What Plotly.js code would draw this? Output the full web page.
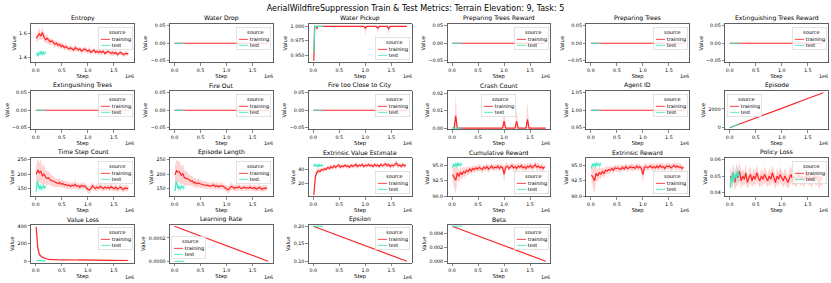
<!DOCTYPE html>
<html><head><meta charset="utf-8">
<script src="https://cdn.plot.ly/plotly-3.0.1.min.js"></script>
<style>html,body{margin:0;padding:0;background:#fff}#chart{width:831px;height:283px}</style>
</head><body><div id="chart"></div>
<script>
// ---------------- data ----------------
const trainSteps = [10000,40000,70000,100000,130000,160000,190000,220000,250000,280000,
310000,340000,370000,400000,430000,460000,490000,520000,550000,580000,
610000,640000,670000,700000,730000,760000,790000,820000,850000,880000,
910000,940000,970000,1000000,1030000,1060000,1090000,1120000,1150000,1180000,
1210000,1240000,1270000,1300000,1330000,1360000,1390000,1420000,1450000,1480000,
1510000,1540000,1570000,1600000,1630000,1660000,1690000,1720000,1750000,1780000];
const testSteps = [10000,30000,50000,70000,90000,110000,130000,150000,170000,190000];
const lineSteps = [0, 1800000];
const testLineSteps = [0, 190000];
const xTickVals = [0, 500000, 1000000, 1500000];
const xTickText = ['0.0', '0.5', '1.0', '1.5'];

const entropyTrain = [1.56,1.58,1.60,1.58,1.61,1.57,1.55,1.56,1.54,1.53,
1.54,1.52,1.51,1.52,1.50,1.51,1.49,1.50,1.48,1.49,
1.48,1.47,1.48,1.47,1.46,1.48,1.47,1.46,1.47,1.45,
1.46,1.47,1.46,1.45,1.46,1.44,1.45,1.46,1.44,1.45,
1.44,1.45,1.44,1.45,1.43,1.44,1.45,1.44,1.43,1.44,
1.43,1.44,1.42,1.43,1.44,1.43,1.42,1.43,1.43,1.43];
const entropyTrainSpread = [0.03,0.04,0.05,0.03,0.05,0.04,0.03,0.04,0.03,0.03,
0.02,0.03,0.03,0.02,0.03,0.02,0.03,0.02,0.02,0.03,
0.02,0.02,0.03,0.02,0.02,0.03,0.02,0.02,0.02,0.03,
0.02,0.02,0.02,0.02,0.03,0.02,0.02,0.02,0.02,0.02,
0.02,0.03,0.02,0.02,0.02,0.02,0.02,0.02,0.02,0.03,
0.02,0.02,0.02,0.02,0.02,0.02,0.02,0.02,0.02,0.02];
const entropyTest = [1.42,1.43,1.41,1.44,1.43,1.45,1.42,1.44,1.43,1.44];
const entropyTestSpread = [0.02,0.02,0.02,0.02,0.02,0.02,0.02,0.02,0.02,0.02];

const timeStepTrain = [200,215,205,210,195,200,190,185,188,180,
178,175,172,170,168,172,165,168,163,165,
160,163,158,162,160,165,158,160,155,162,
158,160,152,148,145,150,160,155,150,156,
152,158,154,150,156,152,155,150,157,153,
150,155,148,152,156,150,147,153,150,152];
const timeStepTrainSpread = [30,40,35,40,30,35,25,25,22,20,
18,18,15,15,14,15,12,14,12,12,
12,12,10,12,10,14,10,12,10,12,
10,12,10,12,14,12,14,10,10,12,
10,12,10,10,12,10,10,10,12,10,
10,12,10,10,12,10,10,12,10,10];
const timeStepTest = [140,175,165,150,160,148,155,160,152,158];
const timeStepTestSpread = [15,20,15,12,12,12,10,10,12,10];

const episodeLengthTrain = [198,212,208,207,196,202,188,186,185,182,
176,177,170,172,166,170,167,165,164,163,
161,162,159,160,161,163,157,161,156,160,
159,158,153,149,146,151,158,156,151,155,
153,157,152,151,155,153,154,151,156,152,
151,154,149,151,155,151,148,152,151,153];
const episodeLengthTrainSpread = [32,38,36,38,30,34,26,24,22,20,
18,17,15,16,14,15,13,14,12,12,
12,11,10,12,11,13,10,12,10,12,
10,11,10,12,13,12,13,10,10,12,
10,12,10,10,11,10,10,10,12,10,
10,11,10,10,12,10,10,11,10,10];
const episodeLengthTest = [142,173,166,151,158,149,156,158,153,157];
const episodeLengthTestSpread = [15,20,15,12,12,12,10,10,12,10];

const extValueTrain = [4,30,36,38,37,40,39,41,40,43,
41,44,42,45,43,44,46,43,45,44,
46,44,45,43,46,44,45,47,44,46,
45,47,44,46,45,47,45,46,44,47,
45,46,44,47,45,46,48,45,47,44,
46,45,47,49,45,46,44,47,45,46];
const extValueTrainSpread = [2,6,5,4,3,3,3,3,3,3,
3,3,3,3,3,3,3,3,3,3,
3,3,3,3,3,3,3,4,3,3,
3,3,3,3,3,3,3,3,3,3,
3,3,3,3,3,3,4,3,3,3,
3,3,3,4,3,3,3,3,3,3];
const extValueTest = [44,47,45,46,44,47,45,46,45,46];
const extValueTestSpread = [2,2,2,2,2,2,2,2,2,2];

const cumRewardTrain = [93.5,93.0,92.6,93.8,93.2,93.9,93.5,94.0,93.8,94.2,
94.0,94.4,94.1,94.5,94.3,94.6,94.4,94.7,94.5,94.3,
94.7,94.5,94.8,94.4,94.6,94.9,94.5,94.7,94.6,94.9,
94.5,94.8,94.6,93.6,94.7,94.9,94.5,94.8,95.0,94.6,
94.8,94.5,94.9,94.7,95.0,94.6,94.8,94.5,94.9,94.7,
95.0,94.6,94.8,95.1,94.7,94.9,94.6,94.8,94.5,94.8];
const cumRewardTrainSpread = [1.0,1.5,2.2,1.2,1.0,0.9,0.8,0.8,0.7,0.7,
0.6,0.6,0.6,0.5,0.6,0.5,0.5,0.6,0.5,0.6,
0.5,0.5,0.5,0.6,0.5,0.5,0.6,0.5,0.5,0.5,
0.6,0.5,0.5,1.3,0.6,0.5,0.5,0.5,0.5,0.6,
0.5,0.6,0.5,0.5,0.5,0.6,0.5,0.6,0.5,0.5,
0.5,0.6,0.5,0.5,0.6,0.5,0.5,0.6,0.5,0.5];
const cumRewardTest = [94.6,95.2,94.8,95.3,94.9,95.4,95.0,95.2,95.1,95.3];
const cumRewardTestSpread = [0.4,0.4,0.4,0.4,0.4,0.4,0.4,0.4,0.4,0.4];

const extRewardTrain = [93.4,93.1,92.5,93.7,93.3,93.8,93.6,94.0,93.7,94.2,
94.1,94.3,94.2,94.5,94.2,94.6,94.5,94.6,94.4,94.4,
94.7,94.4,94.8,94.5,94.6,94.8,94.6,94.7,94.5,94.9,
94.6,94.8,94.5,93.5,94.7,94.8,94.6,94.8,94.9,94.6,
94.8,94.6,94.9,94.6,95.0,94.7,94.8,94.5,94.9,94.8,
94.9,94.6,94.8,95.0,94.7,94.9,94.7,94.8,94.5,94.7];
const extRewardTrainSpread = [1.1,1.5,2.3,1.2,1.0,0.9,0.8,0.7,0.7,0.7,
0.6,0.6,0.5,0.5,0.6,0.5,0.5,0.6,0.5,0.6,
0.5,0.5,0.5,0.6,0.5,0.5,0.6,0.5,0.5,0.5,
0.6,0.5,0.5,1.4,0.6,0.5,0.5,0.5,0.5,0.6,
0.5,0.6,0.5,0.5,0.5,0.6,0.5,0.6,0.5,0.5,
0.5,0.6,0.5,0.5,0.6,0.5,0.5,0.6,0.5,0.5];
const extRewardTest = [94.5,95.2,94.9,95.3,94.8,95.4,95.1,95.2,95.0,95.3];
const extRewardTestSpread = [0.4,0.4,0.4,0.4,0.4,0.4,0.4,0.4,0.4,0.4];

const policyLossTrain = [0.050,0.047,0.052,0.046,0.051,0.049,0.053,0.047,0.050,0.048,
0.052,0.046,0.049,0.051,0.047,0.050,0.048,0.052,0.049,0.047,
0.050,0.048,0.051,0.049,0.047,0.050,0.048,0.052,0.049,0.046,
0.050,0.048,0.051,0.049,0.047,0.050,0.048,0.046,0.049,0.051,
0.048,0.050,0.047,0.049,0.051,0.048,0.050,0.047,0.049,0.052,
0.048,0.050,0.047,0.049,0.051,0.048,0.050,0.046,0.049,0.048];
const policyLossTrainSpread = [0.006,0.005,0.006,0.005,0.007,0.005,0.006,0.005,0.005,0.004,
0.006,0.004,0.005,0.005,0.004,0.005,0.004,0.005,0.004,0.004,
0.005,0.004,0.005,0.004,0.004,0.005,0.004,0.005,0.004,0.004,
0.005,0.004,0.005,0.004,0.004,0.005,0.004,0.004,0.005,0.005,
0.004,0.005,0.004,0.004,0.005,0.004,0.005,0.004,0.004,0.005,
0.004,0.005,0.004,0.004,0.005,0.004,0.005,0.004,0.004,0.005];
const policyLossTest = [0.043,0.050,0.046,0.052,0.048,0.051,0.049,0.053,0.050,0.051];
const policyLossTestSpread = [0.004,0.004,0.004,0.004,0.004,0.004,0.004,0.004,0.004,0.004];

const valueLossTrain = [390,150,80,55,45,35,30,25,22,20,
18,17,16,15,17,15,14,16,15,14,
16,15,14,15,13,16,14,15,14,13,
15,14,13,14,12,13,14,12,13,12,
11,13,12,11,12,10,12,11,10,11,
10,9,11,10,9,10,9,8,9,8];
const valueLossTrainSpread = [15,30,20,15,15,10,8,6,5,5,
4,4,3,4,3,3,3,4,3,3,
3,3,3,3,3,3,3,3,3,3,
3,3,3,3,3,3,3,3,3,3,
3,3,3,3,3,3,3,3,3,3,
3,3,3,3,3,3,3,3,3,3];
const valueLossTest = [8,6,5,7,5,6,5,6,5,5];
const valueLossTestSpread = [2,2,2,2,2,2,2,2,2,2];

const waterPickupSteps = [10000,25000,40000,55000,70000,85000,970000,1000000,1030000,1210000,1240000,1270000,1420000,1450000,1480000,1800000];
const waterPickupTrain = [0.940,1.0,1.0,1.0,0.996,1.0,1.0,0.997,1.0,1.0,0.997,1.0,1.0,0.996,1.0,1.0];
const waterPickupTrainLo = [0.940,1.0,1.0,1.0,0.982,1.0,1.0,0.985,1.0,1.0,0.986,1.0,1.0,0.984,1.0,1.0];
const waterPickupTrainHi = [0.940,1.0,1.0,1.0,1.0,1.0,1.0,1.0,1.0,1.0,1.0,1.0,1.0,1.0,1.0,1.0];
const waterPickupTest = [0.955,1.0,1.0,1.0,1.0,1.0,1.0,1.0,1.0,1.0];

const crashSteps = [10000,40000,70000,100000,970000,1000000,1030000,1210000,1240000,1270000,1420000,1450000,1480000,1800000];
const crashTrain = [0,0,0.007,0,0,0.004,0,0,0.004,0,0,0.005,0,0];
const crashTrainLo = [0,0,0,0,0,0,0,0,0,0,0,0,0,0];
const crashTrainHi = [0,0,0.020,0,0,0.013,0,0,0.012,0,0,0.016,0,0];
const crashTest = [0,0];

const zeroTrain = [0, 0];
const zeroTest = [0, 0];
const agentIdTrain = [1, 1];
const agentIdTest = [1, 1];

const episodeSteps = [0, 500000, 1000000, 1500000, 1800000];
const episodeTrain = [0, 1000, 2050, 3100, 3700];
const episodeTest = [0, 420];

const learningRateTrain = [0.0003, 0];
const learningRateTest = [0, 0];
const epsilonTrain = [0.2, 0.1];
const epsilonTest = [0.2, 0.2];
const betaTrain = [0.005, 0];
const betaTest = [0.005, 0.005];

// ---------------- chart ----------------
const RED = '#ff2424', AQUA = '#3fe8c2';
const RED_BAND = 'rgba(255,36,36,0.2)', AQUA_BAND = 'rgba(63,232,194,0.25)';

function spreadBand(x, y, s) {
  return {x, lo: y.map((v, i) => v - s[i]), hi: y.map((v, i) => v + s[i])};
}

const panels = [
 {t:'Entropy', tr:{x:trainSteps,y:entropyTrain,band:spreadBand(trainSteps,entropyTrain,entropyTrainSpread)}, te:{x:testSteps,y:entropyTest,band:spreadBand(testSteps,entropyTest,entropyTestSpread)}, r:[1.353,1.684], d:0.2, f:'.1f', leg:'ur'},
 {t:'Water Drop', tr:{x:lineSteps,y:zeroTrain}, te:{x:testLineSteps,y:zeroTest}, r:[-0.055,0.055], d:0.05, f:'.2f', leg:'ur'},
 {t:'Water Pickup', tr:{x:waterPickupSteps,y:waterPickupTrain,band:{x:waterPickupSteps,lo:waterPickupTrainLo,hi:waterPickupTrainHi}}, te:{x:testSteps,y:waterPickupTest}, r:[0.937,1.004], d:0.025, f:'.3f', leg:'lr'},
 {t:'Preparing Trees Reward', tr:{x:lineSteps,y:zeroTrain}, te:{x:testLineSteps,y:zeroTest}, r:[-0.055,0.055], d:0.05, f:'.2f', leg:'ur'},
 {t:'Preparing Trees', tr:{x:lineSteps,y:zeroTrain}, te:{x:testLineSteps,y:zeroTest}, r:[-0.055,0.055], d:0.05, f:'.2f', leg:'ur'},
 {t:'Extinguishing Trees Reward', tr:{x:lineSteps,y:zeroTrain}, te:{x:testLineSteps,y:zeroTest}, r:[-0.055,0.055], d:0.05, f:'.2f', leg:'ur'},
 {t:'Extinguishing Trees', tr:{x:lineSteps,y:zeroTrain}, te:{x:testLineSteps,y:zeroTest}, r:[-0.055,0.055], d:0.05, f:'.2f', leg:'ur'},
 {t:'Fire Out', tr:{x:lineSteps,y:zeroTrain}, te:{x:testLineSteps,y:zeroTest}, r:[-0.055,0.055], d:0.05, f:'.2f', leg:'ur'},
 {t:'Fire too Close to City', tr:{x:lineSteps,y:zeroTrain}, te:{x:testLineSteps,y:zeroTest}, r:[-0.055,0.055], d:0.05, f:'.2f', leg:'ur'},
 {t:'Crash Count', tr:{x:crashSteps,y:crashTrain,band:{x:crashSteps,lo:crashTrainLo,hi:crashTrainHi}}, te:{x:testLineSteps,y:crashTest}, r:[-0.0008,0.0213], d:0.01, f:'.2f', leg:'uc'},
 {t:'Agent ID', tr:{x:lineSteps,y:agentIdTrain}, te:{x:testLineSteps,y:agentIdTest}, r:[0.945,1.055], d:0.05, f:'.2f', leg:'ur'},
 {t:'Episode', tr:{x:episodeSteps,y:episodeTrain}, te:{x:testLineSteps,y:episodeTest}, r:[-185,3890], d:2000, f:'d', leg:'ul'},
 {t:'Time Step Count', tr:{x:trainSteps,y:timeStepTrain,band:spreadBand(trainSteps,timeStepTrain,timeStepTrainSpread)}, te:{x:testSteps,y:timeStepTest,band:spreadBand(testSteps,timeStepTest,timeStepTestSpread)}, r:[123,256], d:50, f:'d', leg:'ur'},
 {t:'Episode Length', tr:{x:trainSteps,y:episodeLengthTrain,band:spreadBand(trainSteps,episodeLengthTrain,episodeLengthTrainSpread)}, te:{x:testSteps,y:episodeLengthTest,band:spreadBand(testSteps,episodeLengthTest,episodeLengthTestSpread)}, r:[123,256], d:50, f:'d', leg:'ur'},
 {t:'Extrinsic Value Estimate', tr:{x:trainSteps,y:extValueTrain,band:spreadBand(trainSteps,extValueTrain,extValueTrainSpread)}, te:{x:testSteps,y:extValueTest,band:spreadBand(testSteps,extValueTest,extValueTestSpread)}, r:[2,56], d:20, f:'d', leg:'lr'},
 {t:'Cumulative Reward', tr:{x:trainSteps,y:cumRewardTrain,band:spreadBand(trainSteps,cumRewardTrain,cumRewardTrainSpread)}, te:{x:testSteps,y:cumRewardTest,band:spreadBand(testSteps,cumRewardTest,cumRewardTestSpread)}, r:[89.95,96.2], d:2.5, f:'.1f', leg:'lr'},
 {t:'Extrinsic Reward', tr:{x:trainSteps,y:extRewardTrain,band:spreadBand(trainSteps,extRewardTrain,extRewardTrainSpread)}, te:{x:testSteps,y:extRewardTest,band:spreadBand(testSteps,extRewardTest,extRewardTestSpread)}, r:[89.95,96.2], d:2.5, f:'.1f', leg:'lr'},
 {t:'Policy Loss', tr:{x:trainSteps,y:policyLossTrain,band:spreadBand(trainSteps,policyLossTrain,policyLossTrainSpread)}, te:{x:testSteps,y:policyLossTest,band:spreadBand(testSteps,policyLossTest,policyLossTestSpread)}, r:[0.0374,0.0611], d:0.01, f:'.2f', leg:'ur'},
 {t:'Value Loss', tr:{x:trainSteps,y:valueLossTrain,band:spreadBand(trainSteps,valueLossTrain,valueLossTrainSpread)}, te:{x:testSteps,y:valueLossTest,band:spreadBand(testSteps,valueLossTest,valueLossTestSpread)}, r:[-20,415], d:200, f:'d', leg:'ur'},
 {t:'Learning Rate', tr:{x:lineSteps,y:learningRateTrain}, te:{x:testLineSteps,y:learningRateTest}, r:[-0.000015,0.000315], d:0.0002, f:'.4f', leg:'ll'},
 {t:'Epsilon', tr:{x:lineSteps,y:epsilonTrain}, te:{x:testLineSteps,y:epsilonTest}, r:[0.095,0.205], d:0.05, f:'.2f', leg:'ur'},
 {t:'Beta', tr:{x:lineSteps,y:betaTrain}, te:{x:testLineSteps,y:betaTest}, r:[-0.00025,0.00525], d:0.002, f:'.3f', leg:'ur'}
];

const FONT = 'DejaVu Sans, sans-serif';
const traces = [];
const layout = {
  width: 831, height: 283, margin: {l:0, r:0, t:0, b:0},
  paper_bgcolor: '#ffffff', plot_bgcolor: '#ffffff', showlegend: false,
  font: {family: FONT, color: '#000000'},
  title: {text: 'AerialWildfireSuppression Train &amp; Test Metrics: Terrain Elevation: 9, Task: 5',
          font: {family: FONT, size: 8, color: '#000000'}, x: 0.5, xanchor: 'center', y: 1 - 8.5/283, yanchor: 'middle'},
  annotations: []
};
const common = {showline: true, mirror: true, linecolor: '#3a3a3a', linewidth: 0.8, ticks: 'outside', ticklen: 2.5,
  tickwidth: 0.6, tickcolor: '#3a3a3a', tickfont: {family: FONT, size: 4.8, color: '#000'}, showgrid: false,
  zeroline: false, automargin: false, fixedrange: true};

function bandTrace(b, color, xa, ya) {
  return {x: b.x.concat(b.x.slice().reverse()), y: b.lo.concat(b.hi.slice().reverse()), mode: 'lines',
    fill: 'toself', fillcolor: color, line: {width: 0}, xaxis: xa, yaxis: ya, hoverinfo: 'skip'};
}
const legText = '\u00a0\u00a0\u00a0\u00a0\u00a0source<br><span style="color:' + RED + '">━━━</span> training<br><span style="color:' + AQUA + '">━━━</span> test';

panels.forEach((p, i) => {
  const r = Math.floor(i / 6), c = i % 6;
  const L = 31 + 138.8 * c, W = 103, T = [24, 91, 158, 224.5][r], H = 38.5;
  const n = i === 0 ? '' : String(i + 1);
  const xa = 'x' + n, ya = 'y' + n;
  layout['xaxis' + n] = Object.assign({}, common, {domain: [L/831, (L+W)/831], anchor: ya, range: [-90000, 1890000],
    tickmode: 'array', tickvals: xTickVals, ticktext: xTickText,
    title: {text: 'Step', font: {family: FONT, size: 5.3}, standoff: 1}});
  layout['yaxis' + n] = Object.assign({}, common, {domain: [1-(T+H)/283, 1-T/283], anchor: xa, range: p.r,
    tick0: 0, dtick: p.d, tickformat: p.f,
    title: {text: 'Value', font: {family: FONT, size: 5.3}, standoff: 2}});
  if (p.tr.band) traces.push(bandTrace(p.tr.band, RED_BAND, xa, ya));
  traces.push({x: p.tr.x, y: p.tr.y, mode: 'lines', line: {color: RED, width: 1.2}, xaxis: xa, yaxis: ya, name: 'training'});
  if (p.te.band) traces.push(bandTrace(p.te.band, AQUA_BAND, xa, ya));
  traces.push({x: p.te.x, y: p.te.y, mode: 'lines', line: {color: AQUA, width: 1.2}, xaxis: xa, yaxis: ya, name: 'test'});
  layout.annotations.push({text: p.t, xref: xa + ' domain', yref: ya + ' domain', x: 0.5, y: 1, xanchor: 'center', yanchor: 'bottom',
    yshift: 0, showarrow: false, font: {family: FONT, size: 6.1, color: '#000'}});
  layout.annotations.push({text: '1e6', xref: xa + ' domain', yref: ya + ' domain', x: 1, y: 0, xanchor: 'right', yanchor: 'top',
    xshift: 2, yshift: -9.5, showarrow: false, font: {family: FONT, size: 4.8, color: '#000'}});
  const pos = {ur: [1, 1, 'right', 'top', -1.5, -2.5], lr: [1, 0, 'right', 'bottom', -1.5, 2.5], uc: [0.5, 1, 'center', 'top', 0, -2.5],
               ul: [0, 1, 'left', 'top', 1.5, -2.5], ll: [0, 0, 'left', 'bottom', 1.5, 4]}[p.leg];
  layout.annotations.push({text: legText, xref: xa + ' domain', yref: ya + ' domain', x: pos[0], y: pos[1], xanchor: pos[2], yanchor: pos[3],
    xshift: pos[4], yshift: pos[5], align: 'left', showarrow: false, font: {family: FONT, size: 5, color: '#000'},
    bgcolor: 'rgba(255,255,255,0.8)', bordercolor: '#d0d0d0', borderwidth: 0.6, borderpad: 1.5});
});

Plotly.newPlot('chart', traces, layout, {staticPlot: true, displayModeBar: false});
</script>
</body></html>
